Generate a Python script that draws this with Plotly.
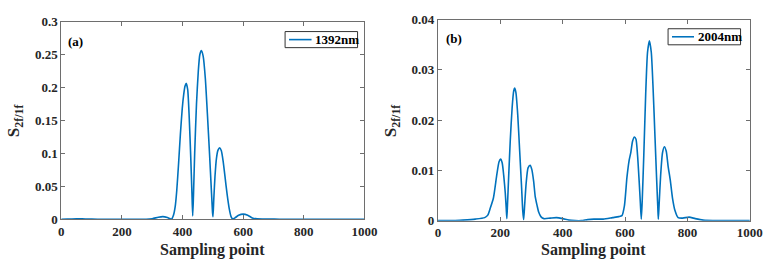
import plotly.graph_objects as go

# ---- data: panel (a) 1392nm ----
xa = [0, 20, 50, 80, 120, 200, 280, 300, 320, 335, 350, 358, 364, 370, 376, 381, 387, 393, 399, 404, 408, 412,
      417, 422, 427, 431, 433.5, 436, 440, 446, 452, 457, 462, 468, 475, 482, 489, 495, 499, 500.5,
      503, 507, 512, 517, 522.6, 528, 534, 540, 547, 554, 560, 566, 573, 585, 600, 615, 630, 646, 680, 720, 1000]
ya = [0, 0.0003, 0.0008, 0.0003, 0, 0, 0, 0.0008, 0.003, 0.0039, 0.0025, 0.001, 0.0002, 0.006, 0.02, 0.044, 0.085, 0.13, 0.168, 0.19, 0.202, 0.2065,
      0.197, 0.155, 0.095, 0.04, 0.005, 0.035, 0.10, 0.175, 0.225, 0.25, 0.2565, 0.248, 0.215, 0.16, 0.10, 0.045, 0.01, 0.004,
      0.03, 0.065, 0.093, 0.105, 0.1085, 0.104, 0.088, 0.065, 0.038, 0.016, 0.004, 0.0002, 0.002, 0.006, 0.0077, 0.006, 0.002, 0.0005, 0.0002, 0, 0]

# ---- data: panel (b) 2004nm ----
xb = [0, 50, 80, 120, 150, 160, 168, 178, 189, 196, 201, 206, 211, 216, 219, 221, 223, 227, 232, 238, 243, 246, 250, 256, 262, 268, 272, 275,
      278, 283, 289, 295.6, 301, 307, 312, 318, 323, 330, 340, 360, 380, 400, 420, 440, 460, 480, 500, 530, 560, 580, 590, 598, 606, 613, 618.5, 624, 630,
      635, 640, 645, 649, 652, 655, 660, 666, 672, 678, 684, 690, 696, 701, 705, 706.6, 709, 714, 720, 726, 732, 738, 745, 752, 760, 770, 785, 805, 825, 850, 900, 1000]
yb = [0, 0, 0.0001, 0.0003, 0.0006, 0.0011, 0.0025, 0.0045, 0.0092, 0.0117, 0.01224, 0.0115, 0.009, 0.0055, 0.0025, 0.0004, 0.003, 0.009, 0.016, 0.0225, 0.0258, 0.02637, 0.0255, 0.021, 0.014, 0.007, 0.002, 0.0002,
      0.003, 0.0075, 0.0105, 0.0110, 0.0102, 0.0078, 0.0048, 0.003, 0.0017, 0.0008, 0.0004, 0.0005, 0.0006, 0.0004, 0.0001, 0, 0, 0.0002, 0.0003, 0.0003, 0.0006, 0.0008, 0.001, 0.003, 0.0086, 0.012, 0.0136, 0.0158, 0.01665,
      0.0162, 0.013, 0.008, 0.0035, 0.0003, 0.004, 0.013, 0.025, 0.0335, 0.0358, 0.0335, 0.026, 0.0165, 0.0085, 0.0025, 0.0003, 0.003, 0.009, 0.0135, 0.0147, 0.0138, 0.0108, 0.008, 0.0045, 0.002, 0.0006, 0.0005, 0.0007, 0.0004, 0.0001, 0, 0]

series_names = ["1392nm", "2004nm"]
x_ticks = [0, 200, 400, 600, 800, 1000]
ya_ticks = [0, 0.05, 0.1, 0.15, 0.2, 0.25, 0.3]
ya_ticktext = ["0", "0.05", "0.1", "0.15", "0.2", "0.25", "0.3"]
yb_ticks = [0, 0.01, 0.02, 0.03, 0.04]
yb_ticktext = ["0", "0.01", "0.02", "0.03", "0.04"]

W, H = 780, 274
LINE = "#0072BD"
FONT = "'Times New Roman', 'Liberation Serif', Times, serif"
TXT = "#262626"
AX = "#6e6e6e"

fig = go.Figure()
fig.add_trace(go.Scatter(x=xa, y=ya, mode="lines", name=series_names[0],
                         line=dict(color=LINE, width=1.6, shape="spline", smoothing=0.6),
                         xaxis="x", yaxis="y", showlegend=False))
fig.add_trace(go.Scatter(x=xb, y=yb, mode="lines", name=series_names[1],
                         line=dict(color=LINE, width=1.6, shape="spline", smoothing=0.6),
                         xaxis="x2", yaxis="y2", showlegend=False))

def px_x(p):
    return p / W

def px_y(p):
    return 1 - p / H

axis_common = dict(showline=True, linecolor=AX, linewidth=1, mirror="ticks", ticks="inside", ticklen=4,
                   tickcolor=AX, showgrid=False, zeroline=False,
                   tickfont=dict(family=FONT, size=13, color=TXT, weight="bold"))

fig.update_layout(
    width=W, height=H, margin=dict(l=0, r=0, t=0, b=0),
    paper_bgcolor="white", plot_bgcolor="white",
    font=dict(family=FONT),
    xaxis=dict(domain=[px_x(59.5), px_x(369)], range=[0, 1000], tickvals=x_ticks, anchor="y", **axis_common),
    yaxis=dict(domain=[px_y(224.5), px_y(15.7)], range=[0, 0.3], tickvals=ya_ticks, ticktext=ya_ticktext, anchor="x", **axis_common),
    xaxis2=dict(domain=[px_x(444), px_x(762.5)], range=[0, 1000], tickvals=x_ticks, anchor="y2", **axis_common),
    yaxis2=dict(domain=[px_y(226), px_y(13.3)], range=[0, 0.04], tickvals=yb_ticks, ticktext=yb_ticktext, anchor="x2", **axis_common),
    showlegend=False,
)

# legend boxes (drawn in paper space)
legend_boxes = [
    dict(x0=288, x1=362, y0=26, y1=43, lx0=292, lx1=315, tx=317),
    dict(x0=679, x1=753, y0=23, y1=40, lx0=683, lx1=705.5, tx=707.5),
]
for name, lb in zip(series_names, legend_boxes):
    fig.add_shape(type="rect", xref="paper", yref="paper", x0=px_x(lb["x0"]), x1=px_x(lb["x1"]),
                  y0=px_y(lb["y1"]), y1=px_y(lb["y0"]), line=dict(color="#333", width=1), fillcolor="white", layer="above")
    ym = (lb["y0"] + lb["y1"]) / 2
    fig.add_shape(type="line", xref="paper", yref="paper", x0=px_x(lb["lx0"]), x1=px_x(lb["lx1"]),
                  y0=px_y(ym), y1=px_y(ym), line=dict(color=LINE, width=1.6), layer="above")
    fig.add_annotation(xref="paper", yref="paper", x=px_x(lb["tx"]), y=px_y(ym), text=name, showarrow=False,
                       xanchor="left", yanchor="middle", font=dict(family=FONT, size=13, color="black", weight="bold"))

annots = [
    dict(text="(a)", x=px_x(64), y=px_y(37), xanchor="left", yanchor="middle"),
    dict(text="(b)", x=px_x(450), y=px_y(33), xanchor="left", yanchor="middle"),
]
for a in annots:
    fig.add_annotation(xref="paper", yref="paper", showarrow=False, font=dict(family=FONT, size=13, color="black", weight="bold"), **a)

# axis titles
for cx in (214, 603):
    fig.add_annotation(xref="paper", yref="paper", x=px_x(cx), y=px_y(257), text="Sampling point", showarrow=False,
                       xanchor="center", yanchor="middle", font=dict(family=FONT, size=16, color=TXT, weight="bold"))
for cx, cy in ((13, 120), (398, 120)):
    fig.add_annotation(xref="paper", yref="paper", x=px_x(cx), y=px_y(cy), text="S<sub>2f/1f</sub>", showarrow=False,
                       textangle=-90, xanchor="center", yanchor="middle", font=dict(family=FONT, size=17, color=TXT, weight="bold"))

fig.write_html("out.html")
